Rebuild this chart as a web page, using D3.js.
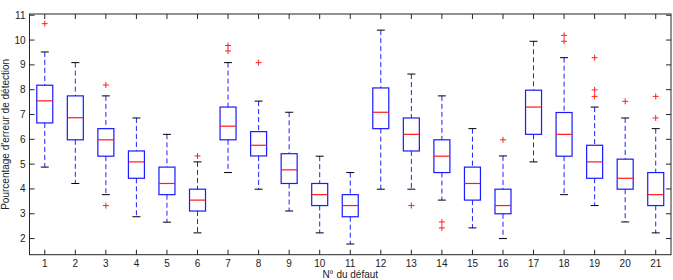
<!DOCTYPE html>
<html lang="fr">
<head>
<meta charset="UTF-8">
<title>Boxplot défauts</title>
<script src="https://cdn.jsdelivr.net/npm/d3@7"></script>
<style>
  body { margin: 0; background: #fff; }
  text { font-family: "Liberation Sans", Arial, sans-serif; }
</style>
</head>
<body>
<div id="chart"></div>
<script>
// values
const faults = d3.range(1, 22)
const whiskerHigh = [9.52, 9.09, 7.75, 6.86, 6.20, 5.09, 9.09, 7.54, 7.09, 5.32, 4.66, 10.40, 8.63, 7.75, 6.43, 5.33, 9.95, 9.29, 7.30, 6.86, 6.43]
const q3 = [8.18, 7.75, 6.43, 5.53, 4.88, 3.99, 7.30, 6.31, 5.42, 4.22, 3.77, 8.07, 6.86, 5.98, 4.88, 3.99, 7.98, 7.08, 5.76, 5.20, 4.66]
const medians = [7.55, 6.87, 5.98, 5.09, 4.22, 3.55, 6.53, 5.76, 4.77, 3.77, 3.33, 7.09, 6.20, 5.32, 4.22, 3.33, 7.30, 6.20, 5.09, 4.43, 3.77]
const q1 = [6.66, 5.98, 5.32, 4.43, 3.77, 3.11, 5.98, 5.33, 4.22, 3.33, 2.88, 6.43, 5.53, 4.66, 3.55, 3.00, 6.20, 5.32, 4.43, 3.99, 3.33]
const whiskerLow = [4.88, 4.22, 3.77, 2.88, 2.66, 2.23, 4.66, 3.99, 3.11, 2.23, 1.78, 3.99, 3.99, 3.55, 2.43, 2.00, 5.09, 3.77, 3.33, 2.67, 2.23]
const outliers = [[10.66], [], [8.19, 3.33], [], [], [5.33], [9.78, 9.56], [9.09], [], [], [], [], [3.33], [2.67, 2.43], [], [5.98], [], [10.19, 9.95], [9.29, 7.99, 7.73], [7.53], [7.73, 6.86]]
const yTicks = d3.range(2, 12)

const width = 673, height = 280
const margin = {top: 14, right: 2, bottom: 25.3, left: 29.5}

const svg = d3.select('#chart').append('svg')
    .attr('width', width)
    .attr('height', height)

const x = d3.scaleLinear()
    .domain([0.5, 21.5])
    .range([margin.left, width - margin.right])

const y = d3.scaleLinear()
    .domain([1.35, 11.05])
    .range([height - margin.bottom, margin.top])

const axisColor = '#262626'
const boxW = 16, capW = 8

let rows = faults.map((f, i) => ({
    f: f, lo: whiskerLow[i], q1: q1[i], med: medians[i], q3: q3[i], hi: whiskerHigh[i], out: outliers[i]
}))

let g = svg.selectAll('.box').data(rows).join('g').attr('class', 'box')

// dashed whiskers
g.append('line')
    .attr('x1', d => x(d.f)).attr('x2', d => x(d.f))
    .attr('y1', d => y(d.hi)).attr('y2', d => y(d.q3))
    .attr('stroke', '#2020ff').attr('stroke-width', 1).attr('stroke-dasharray', '5,3')
g.append('line')
    .attr('x1', d => x(d.f)).attr('x2', d => x(d.f))
    .attr('y1', d => y(d.q1)).attr('y2', d => y(d.lo))
    .attr('stroke', '#2020ff').attr('stroke-width', 1).attr('stroke-dasharray', '5,3')

// whisker caps
g.append('line')
    .attr('x1', d => x(d.f) - capW / 2).attr('x2', d => x(d.f) + capW / 2)
    .attr('y1', d => y(d.hi)).attr('y2', d => y(d.hi))
    .attr('stroke', '#000').attr('stroke-width', 1)
g.append('line')
    .attr('x1', d => x(d.f) - capW / 2).attr('x2', d => x(d.f) + capW / 2)
    .attr('y1', d => y(d.lo)).attr('y2', d => y(d.lo))
    .attr('stroke', '#000').attr('stroke-width', 1)

// boxes
g.append('rect')
    .attr('x', d => x(d.f) - boxW / 2)
    .attr('width', boxW)
    .attr('y', d => y(d.q3))
    .attr('height', d => y(d.q1) - y(d.q3))
    .attr('fill', 'none')
    .attr('stroke', '#1a1aff').attr('stroke-width', 1.2)

// medians
g.append('line')
    .attr('x1', d => x(d.f) - boxW / 2).attr('x2', d => x(d.f) + boxW / 2)
    .attr('y1', d => y(d.med)).attr('y2', d => y(d.med))
    .attr('stroke', '#ff1a1a').attr('stroke-width', 1.2)

// outliers as red +
g.selectAll('.out').data(d => d.out.map(v => ({f: d.f, v: v}))).join('path')
    .attr('class', 'out')
    .attr('d', d => `M${x(d.f) - 3},${y(d.v)}h6M${x(d.f)},${y(d.v) - 3}v6`)
    .attr('stroke', '#ff2020').attr('stroke-width', 1)

// frame
const x0 = x.range()[0], x1 = x.range()[1], y0 = y.range()[0], y1 = y.range()[1]
svg.append('rect')
    .attr('x', x0).attr('y', y1)
    .attr('width', x1 - x0).attr('height', y0 - y1)
    .attr('fill', 'none').attr('stroke', axisColor).attr('stroke-width', 1)

// x ticks (inward, top and bottom)
let xt = svg.append('g').selectAll('g').data(faults).join('g')
xt.append('line')
    .attr('x1', d => x(d)).attr('x2', d => x(d))
    .attr('y1', y0).attr('y2', y0 - 5)
    .attr('stroke', axisColor)
xt.append('line')
    .attr('x1', d => x(d)).attr('x2', d => x(d))
    .attr('y1', y1).attr('y2', y1 + 5)
    .attr('stroke', axisColor)
xt.append('text')
    .attr('x', d => x(d)).attr('y', y0 + 12.5)
    .attr('text-anchor', 'middle')
    .style('font-size', '10px').attr('fill', '#222')
    .text(d => d)

// y ticks (inward, left and right)
let yt = svg.append('g').selectAll('g').data(yTicks).join('g')
yt.append('line')
    .attr('x1', x0).attr('x2', x0 + 5)
    .attr('y1', d => y(d)).attr('y2', d => y(d))
    .attr('stroke', axisColor)
yt.append('line')
    .attr('x1', x1).attr('x2', x1 - 5)
    .attr('y1', d => y(d)).attr('y2', d => y(d))
    .attr('stroke', axisColor)
yt.append('text')
    .attr('x', x0 - 4).attr('y', d => y(d) + 3.5)
    .attr('text-anchor', 'end')
    .style('font-size', '10px').attr('fill', '#222')
    .text(d => d)

// axis titles
svg.append('text')
    .attr('x', (x0 + x1) / 2).attr('y', 278)
    .attr('text-anchor', 'middle')
    .style('font-size', '10px').attr('fill', '#222')
    .text('N° du défaut')

svg.append('text')
    .attr('transform', `translate(9,${(y0 + y1) / 2}) rotate(-90)`)
    .attr('text-anchor', 'middle')
    .style('font-size', '10px').attr('fill', '#222')
    .text("Pourcentage d'erreur de détection")
</script>
</body>
</html>
